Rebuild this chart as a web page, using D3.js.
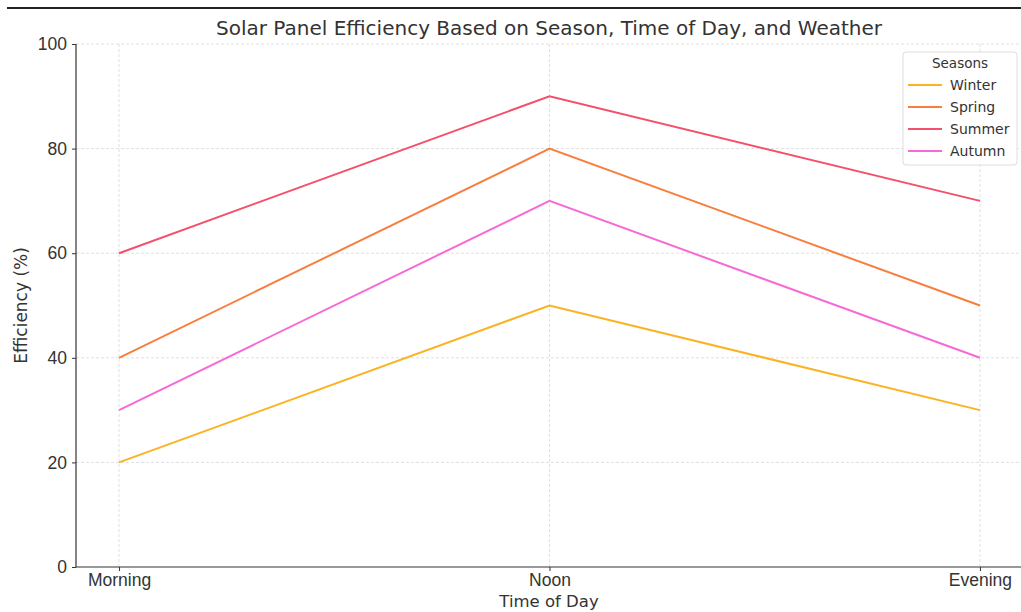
<!DOCTYPE html>
<html>
<head>
<meta charset="utf-8">
<script src="https://cdn.jsdelivr.net/npm/d3@7"></script>
<style>
  html, body { margin: 0; padding: 0; background: #fff; }
  svg { display: block; font-family: "DejaVu Sans", sans-serif; }
</style>
</head>
<body>
<svg id="chart" width="1021" height="612"></svg>
<script>
// Time-of-day categories and efficiency (%) for each season
const timesOfDay = ["Morning", "Noon", "Evening"];
const seasonNames = ["Winter", "Spring", "Summer", "Autumn"];
const winterValues = [20, 50, 30];
const springValues = [40, 80, 50];
const summerValues = [60, 90, 70];
const autumnValues = [30, 70, 40];
const seasonColors = ["#fbb324", "#f97e3e", "#f4506c", "#f76ad6"];
const yTicks = [0, 20, 40, 60, 80, 100];

const series = [winterValues, springValues, summerValues, autumnValues].map((vals, i) => ({
  name: seasonNames[i], color: seasonColors[i], values: vals
}));

const svg = d3.select("#chart");
const margin = { left: 76, right: -2, top: 44, bottom: 45 };
const W = 1021, H = 612;

// Index-based x so the categories get matplotlib-like side padding
const x = d3.scaleLinear().domain([-0.1, 2.1]).range([margin.left, W - margin.right]);
const y = d3.scaleLinear().domain([0, 100]).range([H - margin.bottom, margin.top]);

// Rule across the top of the figure
svg.append("line").attr("x1", 7).attr("x2", W).attr("y1", 8).attr("y2", 8)
  .attr("stroke", "#222").attr("stroke-width", 2);

// Grid
const grid = svg.append("g").attr("stroke", "#d8d8d8").attr("stroke-width", 0.8).attr("stroke-dasharray", "3,2");
grid.selectAll(".gy").data(yTicks.slice(1)).join("line")
  .attr("x1", margin.left).attr("x2", W).attr("y1", d => y(d)).attr("y2", d => y(d));
grid.selectAll(".gx").data(timesOfDay).join("line")
  .attr("x1", (d, i) => x(i)).attr("x2", (d, i) => x(i))
  .attr("y1", y(0)).attr("y2", y(100));

// Axes
const yAxis = d3.axisLeft(y).tickValues(yTicks).tickSize(4).tickPadding(5);
const gy = svg.append("g").attr("transform", `translate(${margin.left},0)`).call(yAxis);
const xAxis = d3.axisBottom(x).tickValues([0, 1, 2]).tickFormat(i => timesOfDay[i]).tickSize(4).tickPadding(3);
const gx = svg.append("g").attr("transform", `translate(0,${y(0)})`).call(xAxis);
[gx, gy].forEach(g => {
  g.select(".domain").attr("stroke", "#333").attr("stroke-width", 1.2);
  g.selectAll(".tick line").attr("stroke", "#333");
  g.selectAll(".tick text").attr("fill", "#333").attr("font-size", 17.5);
});
gx.select(".domain").attr("d", `M${margin.left},0H${W}`);
gy.select(".domain").attr("d", `M0,${y(0)}V${y(100)}`);

// Lines
const line = d3.line().x((d, i) => x(i)).y(d => y(d));
svg.append("g").selectAll("path").data(series).join("path")
  .attr("d", d => line(d.values))
  .attr("fill", "none").attr("stroke", d => d.color).attr("stroke-width", 2);

// Titles
svg.append("text").attr("x", 549).attr("y", 35).attr("text-anchor", "middle")
  .attr("font-size", 20).attr("fill", "#333")
  .text("Solar Panel Efficiency Based on Season, Time of Day, and Weather");
svg.append("text").attr("x", 549).attr("y", 607).attr("text-anchor", "middle")
  .attr("font-size", 16.5).attr("fill", "#333").text("Time of Day");
svg.append("text").attr("transform", `translate(27,${(y(0) + y(100)) / 2}) rotate(-90)`)
  .attr("text-anchor", "middle").attr("font-size", 17).attr("fill", "#333").text("Efficiency (%)");

// Legend
const lg = svg.append("g").attr("transform", "translate(903,52)");
lg.append("rect").attr("width", 114).attr("height", 113).attr("rx", 3)
  .attr("fill", "#fff").attr("fill-opacity", 0.85).attr("stroke", "#ddd");
lg.append("text").attr("x", 57).attr("y", 16).attr("text-anchor", "middle")
  .attr("font-size", 13.5).attr("fill", "#333").text("Seasons");
const items = lg.selectAll(".item").data(series).join("g")
  .attr("transform", (d, i) => `translate(0,${33 + i * 22})`);
items.append("line").attr("x1", 5).attr("x2", 39).attr("y1", 0).attr("y2", 0)
  .attr("stroke", d => d.color).attr("stroke-width", 2);
items.append("text").attr("x", 47).attr("y", 5).attr("font-size", 14).attr("fill", "#333")
  .text(d => d.name);
</script>
</body>
</html>
